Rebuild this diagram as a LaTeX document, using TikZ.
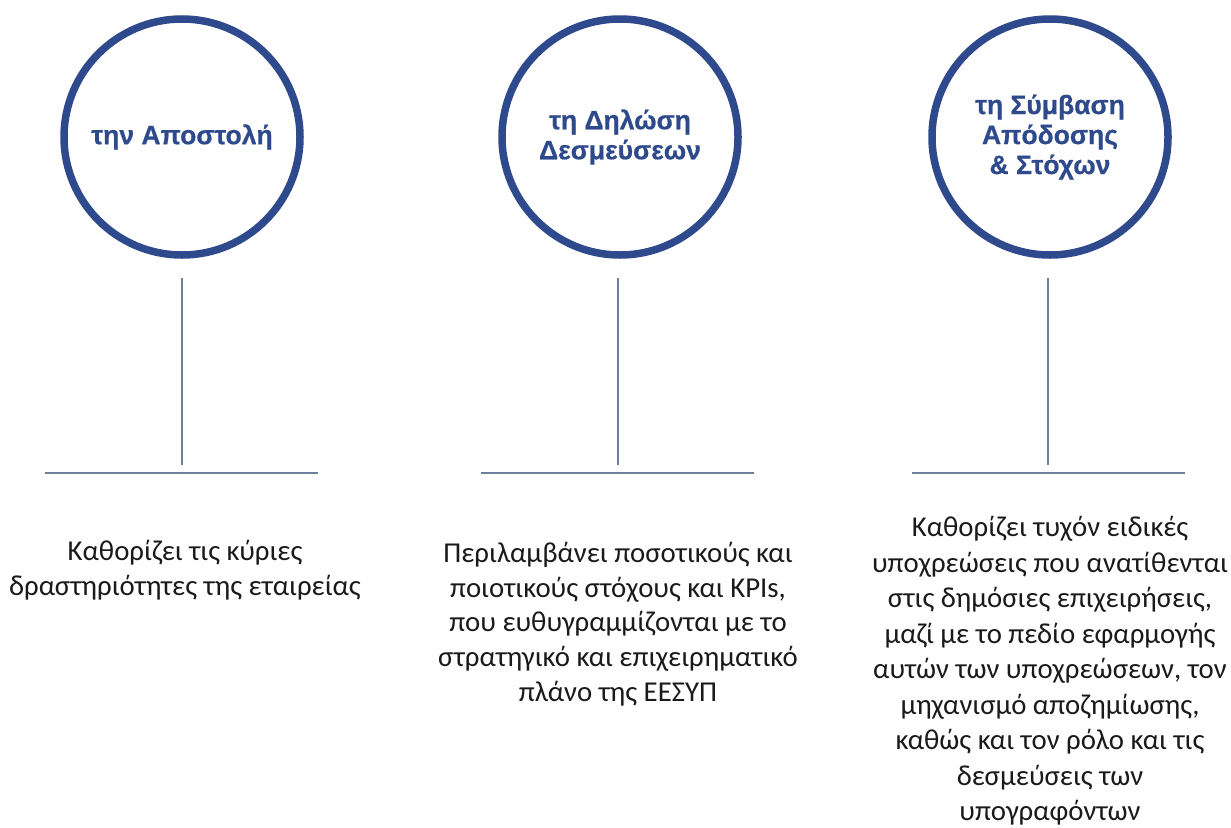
\documentclass[tikz,border=0pt]{standalone}
\usepackage{fontspec}
\setmainfont{Carlito}
\newfontfamily\circfont{Liberation Sans Bold}[FakeBold=0.6]
\definecolor{circblue}{HTML}{2E4A8C}
\definecolor{linegray}{HTML}{6F7F9E}
\definecolor{txt}{HTML}{1A1A1A}
\begin{document}
\begin{tikzpicture}[x=1pt,y=-1pt,
  ring/.style={circle,draw=circblue,line width=7.5pt,minimum size=236pt,inner sep=0pt,
    font=\circfont\fontsize{26.5}{30}\selectfont,text=circblue,align=center},
  stem/.style={draw=linegray,line width=1.6pt},
  base/.style={draw=linegray,line width=2.4pt},
  desc/.style={align=center,text=txt,font=\fontsize{28.8}{34.8}\selectfont,inner sep=0pt},
  desclong/.style={desc,font=\fontsize{28.8}{35.5}\selectfont}]
\useasboundingbox (0,0) rectangle (1231,827);
\node[ring] (c1) at (182,137) {την Αποστολή};
\node[ring] (c2) at (620,137) {τη Δηλώση\\Δεσμεύσεων};
\node[ring] (c3) at (1050,137) {τη Σύμβαση\\Απόδοσης\\\& Στόχων};
\coordinate (t1) at (182,278); \coordinate (b1) at (182,465);
\coordinate (t2) at (618,278); \coordinate (b2) at (618,465);
\coordinate (t3) at (1048,278); \coordinate (b3) at (1048,465);
\draw[stem] (t1) -- (b1);
\draw[stem] (t2) -- (b2);
\draw[stem] (t3) -- (b3);
\coordinate (l1) at (45,473); \coordinate (r1) at (318,473);
\coordinate (l2) at (481,473); \coordinate (r2) at (754,473);
\coordinate (l3) at (912,473); \coordinate (r3) at (1185,473);
\draw[base] (l1) -- (r1);
\draw[base] (l2) -- (r2);
\draw[base] (l3) -- (r3);
\node[desc] (d1) at (185,570) {Καθορίζει τις κύριες\\δραστηριότητες της εταιρείας};
\node[desc] (d2) at (618,624) {Περιλαμβάνει ποσοτικούς και\\ποιοτικούς στόχους και KPIs,\\που ευθυγραμμίζονται με το\\στρατηγικό και επιχειρηματικό\\πλάνο της ΕΕΣΥΠ};
\node[desclong] (d3) at (1050,671) {Καθορίζει τυχόν ειδικές\\υποχρεώσεις που ανατίθενται\\στις δημόσιες επιχειρήσεις,\\μαζί με το πεδίο εφαρμογής\\αυτών των υποχρεώσεων, τον\\μηχανισμό αποζημίωσης,\\καθώς και τον ρόλο και τις\\δεσμεύσεις των\\υπογραφόντων};
\end{tikzpicture}
\end{document}
